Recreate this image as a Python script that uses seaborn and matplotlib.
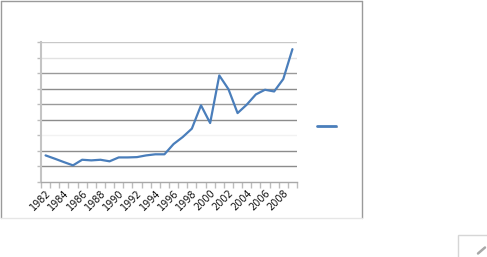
import matplotlib
matplotlib.use("Agg")
import matplotlib.pyplot as plt
import seaborn as sns
import pandas as pd
from matplotlib.lines import Line2D
from matplotlib.patches import Rectangle

years = list(range(1982, 2010))
values = [1.71, 1.50, 1.28, 1.07, 1.43, 1.39, 1.43, 1.33, 1.58, 1.58,
          1.60, 1.71, 1.78, 1.78, 2.44, 2.89, 3.43, 4.93, 3.79, 6.85,
          5.97, 4.43, 4.97, 5.63, 5.93, 5.82, 6.62, 8.54]
tick_years = list(range(1982, 2009, 2))
series_label = "."

sns.set_theme(style="white")
plt.rcParams['font.family'] = ['DejaVu Sans']

df = pd.DataFrame({"idx": range(len(years)), "year": years, "value": values})

fig = plt.figure(figsize=(4.87, 2.57), dpi=100)
ax = fig.add_axes([41/487, 1-182/257, (297-41)/487, (182-42)/257])

sns.lineplot(data=df, x="idx", y="value", ax=ax, color="#4a7ebb",
             linewidth=1.6, label=series_label, legend=False)

ax.set_xlim(-0.5, len(years) - 0.5)
ax.set_ylim(0, 9)
ax.set_xlabel("")
ax.set_ylabel("")

# y gridlines
ax.set_yticks(range(0, 10))
ax.set_yticklabels([])
grid_colors = ["#ffffff", "#8c8c8c", "#8c8c8c", "#f2f2f2", "#8c8c8c",
               "#9a9a9a", "#8c8c8c", "#9a9a9a", "#e2e2e2", "#c8c8c8"]
for y, c in zip(range(0, 10), grid_colors):
    if y > 0:
        ax.axhline(y, color=c, linewidth=1.0, zorder=0)
ax.tick_params(axis="y", which="major", length=3, width=1, color="#bdbdbd",
               direction="out", left=True, pad=0)

# x ticks: marks at category boundaries, labels at centres
ax.set_xticks([i - 0.5 for i in range(len(years) + 1)])
ax.set_xticklabels([])
ax.tick_params(axis="x", which="major", length=4, width=1, color="#bdbdbd",
               direction="out", bottom=True)
label_pos = [years.index(y) for y in tick_years]
ax.set_xticks(label_pos, [str(y) for y in tick_years], minor=True)
ax.tick_params(axis="x", which="minor", length=0, pad=4, labelsize=7,
               labelcolor="#111111")
for lbl in ax.get_xticklabels(minor=True):
    lbl.set_rotation(45)
    lbl.set_ha("right")
    lbl.set_va("top")
    lbl.set_rotation_mode("anchor")

for s in ["top", "right"]:
    ax.spines[s].set_visible(False)
ax.spines["left"].set_color("#c4c4c4")
ax.spines["left"].set_linewidth(1.5)
ax.spines["bottom"].set_color("#a8a8a8")
ax.spines["bottom"].set_linewidth(1.0)

# legend
handles = [Line2D([0], [0], color="#4a7ebb", linewidth=2.0)]
fig.legend(handles, [series_label], loc="center left",
           bbox_to_anchor=(314/487, 1-126/257), frameon=False,
           handlelength=2.6, handletextpad=0.0, borderpad=0,
           fontsize=5, labelcolor="#808080")

# outer chart frame
W, H = 487, 257
fx = lambda x: x / W
fy = lambda y: 1 - y / H
fig.add_artist(Line2D([fx(0.5), fx(362)], [fy(0.8), fy(0.8)], color="#9a9a9a", lw=1.0))
fig.add_artist(Line2D([fx(0.6), fx(0.6)], [fy(0.8), fy(218)], color="#9a9a9a", lw=1.0))
fig.add_artist(Line2D([fx(362), fx(362)], [fy(0.8), fy(218)], color="#9a9a9a", lw=1.0))
fig.add_artist(Line2D([fx(0.5), fx(362)], [fy(218), fy(218)], color="#e6e6e6", lw=1.0))

# small corner box with a pencil mark
fig.add_artist(Rectangle((fx(458), fy(260)), fx(40), (260-235)/H, transform=fig.transFigure,
                         fill=False, edgecolor="#d6d6d6", lw=1.0))
fig.add_artist(Line2D([fx(478), fx(485)], [fy(253.5), fy(247.5)], color="#a8a8a8", lw=1.8))

fig.savefig("out.png", dpi=100)
